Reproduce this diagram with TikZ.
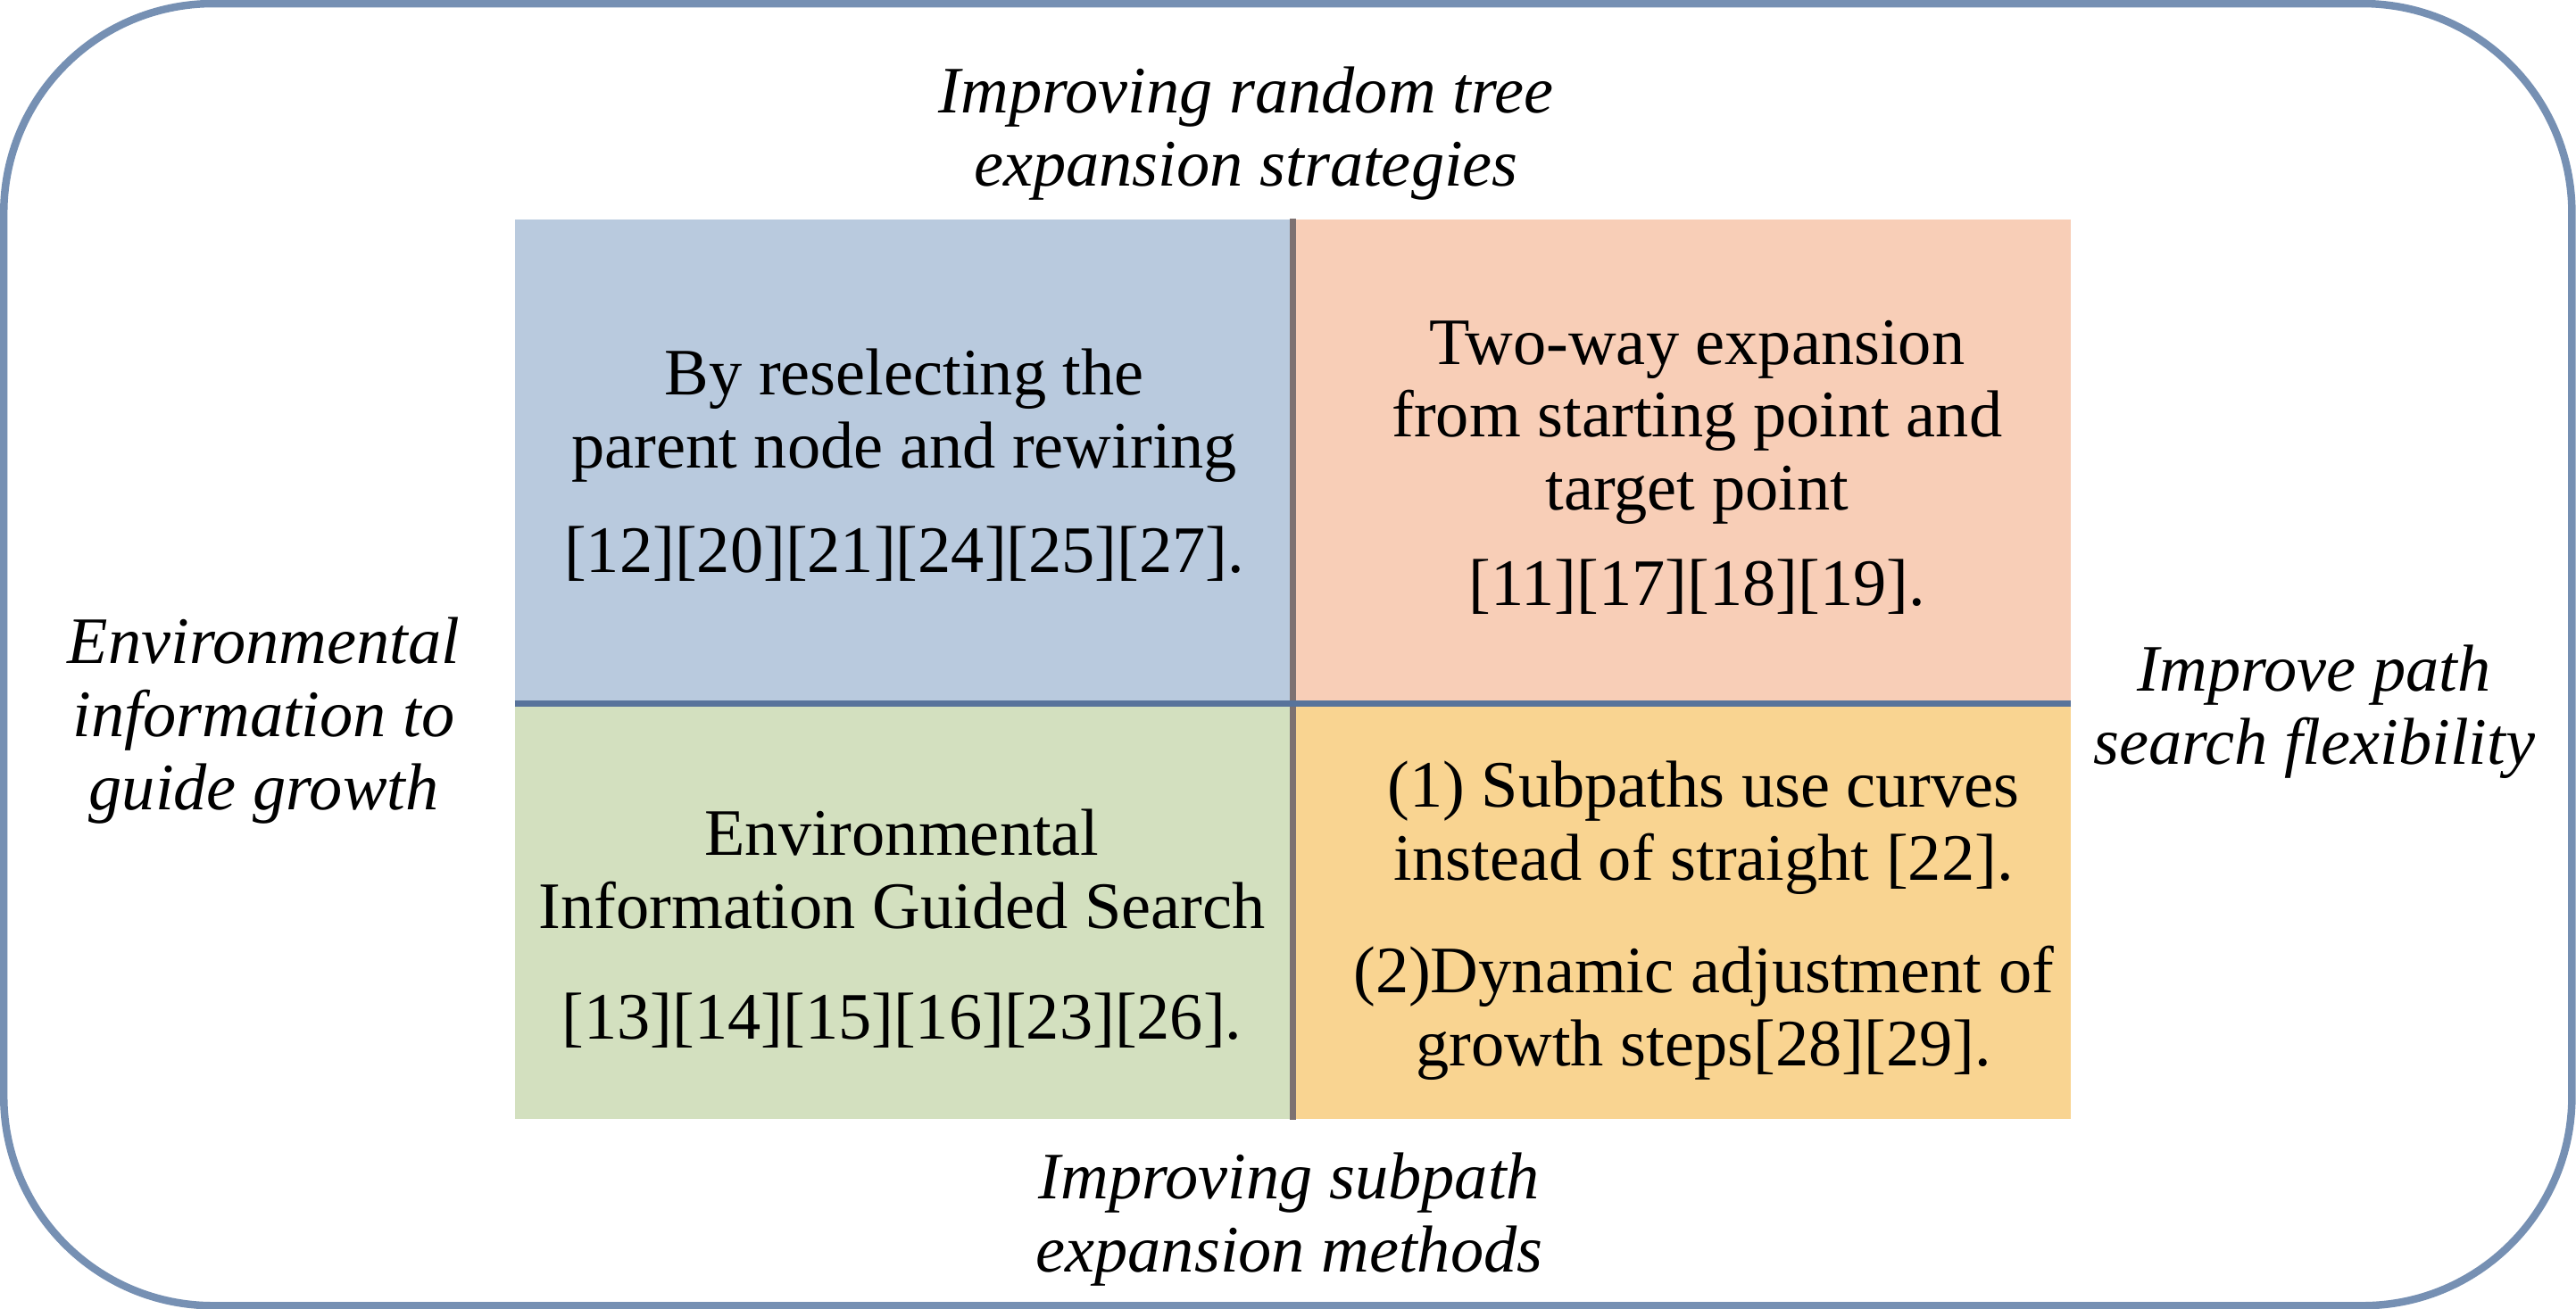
\documentclass[tikz,border=0pt]{standalone}
\usepackage{fontspec}
\setmainfont{Liberation Serif}
\usepackage{xcolor}
\usepackage{tikz}
\usetikzlibrary{positioning}

\definecolor{framecol}{RGB}{118,144,179}
\definecolor{tlblue}{RGB}{185,202,222}
\definecolor{trpeach}{RGB}{248,206,183}
\definecolor{blgreen}{RGB}{211,224,191}
\definecolor{brorange}{RGB}{249,212,145}
\definecolor{vlinecol}{RGB}{125,113,113}
\definecolor{hlinecol}{RGB}{88,115,155}

\begin{document}
\begin{tikzpicture}[x=0.02cm, y=-0.02cm,
    quad/.style={rectangle, inner sep=0pt, minimum width=9.46cm},
    bodytext/.style={align=center, inner sep=0pt, font=\fontsize{23}{25.3}\selectfont},
    sidelabel/.style={align=center, inner sep=0pt, font=\fontsize{23}{25.3}\selectfont\itshape}]
            \useasboundingbox (0,0) rectangle (1568,797);
            \draw[framecol, line width=0.092cm, rounded corners=2.55cm] (2.3,2.2) rectangle (1565.5,795);
            % four quadrants
            \coordinate (mid) at (787,428.5);
            \node[quad, fill=tlblue, minimum height=5.89cm, anchor=south east] (tl) at (mid) {};
            \node[quad, fill=trpeach, minimum height=5.89cm, right=0pt of tl] (tr) {};
            \node[quad, fill=blgreen, minimum height=5.05cm, below=0pt of tl] (bl) {};
            \node[quad, fill=brorange, minimum height=5.05cm, below=0pt of tr] (br) {};
            \draw[vlinecol, line width=0.086cm] (tl.north east) -- (bl.south east);
            \draw[hlinecol, line width=0.076cm] (tl.south west) -- (tr.south east);
            % quadrant texts
            \node[bodytext] (tltxt) at (550.5,283.2) {By reselecting the\\ parent node and rewiring\\[0.39cm] [12][20][21][24][25][27].};
            \node[bodytext] (trtxt) at (1033,284.5) {Two-way expansion\\from starting point and\\target point\\[0.27cm] [11][17][18][19].};
            \node[bodytext] (bltxt) at (549,565.6) {Environmental\\Information Guided Search\\[0.46cm] [13][14][15][16][23][26].};
            \node[bodytext] (brtxt) at (1037,560.4) {(1) Subpaths use curves\\instead of straight [22].\\[0.48cm] (2)Dynamic adjustment of\\growth steps[28][29].};
            % axis labels
            \node[sidelabel] (toplab) at (758.5,81.1) {Improving random tree\\expansion strategies};
            \node[sidelabel] (leftlab) at (160.6,438.8) {Environmental\\information to\\guide growth};
            \node[sidelabel] (rightlab) at (1408.6,433.2) {Improve path\\search flexibility};
            \node[sidelabel] (botlab) at (784.8,742.5) {Improving subpath\\expansion methods};
        \end{tikzpicture}
\end{document}
